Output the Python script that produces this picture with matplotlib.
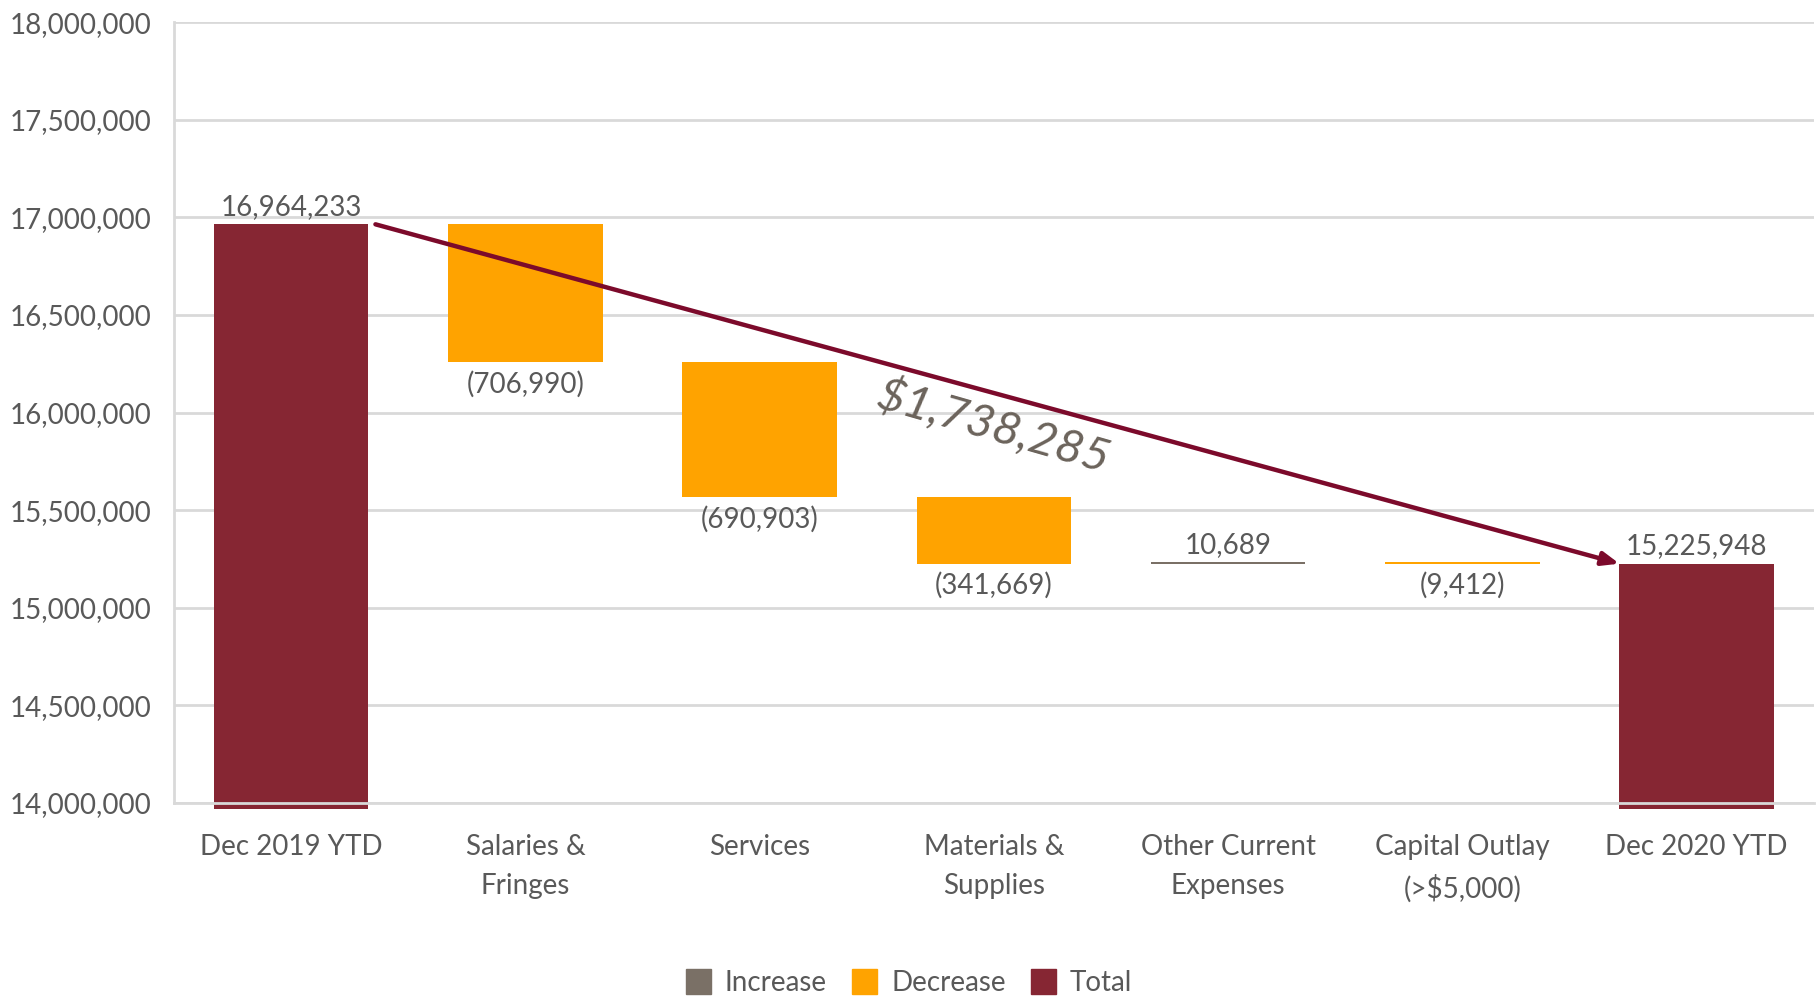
import matplotlib.pyplot as plt
from matplotlib.patches import Patch
from matplotlib.ticker import FuncFormatter

plt.rcParams['font.family'] = ['Lato', 'DejaVu Sans']

categories = ['Dec 2019 YTD', 'Salaries &\nFringes', 'Services', 'Materials &\nSupplies',
              'Other Current\nExpenses', 'Capital Outlay\n(>$5,000)', 'Dec 2020 YTD']
start_total = 16964233
changes = [-706990, -690903, -341669, 10689, -9412]
end_total = 15225948
total_change = 1738285

c_inc = '#7A7066'
c_dec = '#FFA300'
c_tot = '#862633'
c_text = '#595959'
c_grid = '#D9D9D9'

fig = plt.figure(figsize=(18.18, 10.05), dpi=100)
ax = fig.add_axes([0.0957, 0.201, 0.902, 0.777])

w = 0.66
ylo = 14000000
fs = 20
# totals
for i, v in [(0, start_total), (6, end_total)]:
    ax.bar(i, v - ylo + 30000, bottom=ylo - 30000, width=w, color=c_tot, clip_on=False, zorder=2)
    ax.annotate(f'{v:,.0f}', (i, v), xytext=(0, 3), textcoords='offset points',
                ha='center', va='bottom', fontsize=fs, color=c_text)

level = start_total
for k, d in enumerate(changes):
    i = k + 1
    col = c_inc if d > 0 else c_dec
    ax.bar(i, d, bottom=level, width=w, color=col, zorder=2)
    if d > 0:
        ax.annotate(f'{d:,.0f}', (i, level + d), xytext=(0, 3), textcoords='offset points',
                    ha='center', va='bottom', fontsize=fs, color=c_text)
    else:
        ax.annotate(f'({-d:,.0f})', (i, level + d), xytext=(0, -6), textcoords='offset points',
                    ha='center', va='top', fontsize=fs, color=c_text)
    level += d

# arrow showing overall change
ax.annotate('', xy=(6 - 0.33, end_total), xytext=(0.36, start_total),
            arrowprops=dict(arrowstyle='-|>,head_length=1.0,head_width=0.4',
                            color='#7C0A2B', lw=3.2, shrinkA=0, shrinkB=0), zorder=4)
ax.text(3.0, 15930000, f'${total_change:,.0f}', rotation=-16, ha='center', va='center',
        fontsize=34, style='italic', color='#6B635B', zorder=5)

ax.set_ylim(14000000, 18000000)
ax.set_xlim(-0.5, 6.5)
ax.set_yticks(range(14000000, 18000001, 500000))
ax.yaxis.set_major_formatter(FuncFormatter(lambda v, p: f'{v:,.0f}'))
ax.set_xticks(range(len(categories)))
ax.set_xticklabels(categories, linespacing=1.65)
ax.tick_params(axis='both', length=0, labelsize=fs, labelcolor=c_text)
ax.tick_params(axis='x', pad=22)
ax.tick_params(axis='y', pad=16)
ax.grid(axis='y', color=c_grid, lw=2, zorder=0)
ax.set_axisbelow(True)
for s in ['top', 'right']:
    ax.spines[s].set_visible(False)
for s in ['left', 'bottom']:
    ax.spines[s].set_color(c_grid)
    ax.spines[s].set_linewidth(2)
    ax.spines[s].set_zorder(3)

handles = [Patch(color=c_inc, label='Increase'), Patch(color=c_dec, label='Decrease'),
           Patch(color=c_tot, label='Total')]
fig.legend(handles=handles, loc='center', bbox_to_anchor=(0.5, 0.022), ncol=3, frameon=False,
           fontsize=fs, labelcolor=c_text, handlelength=0.9, handleheight=1.0,
           handletextpad=0.5, columnspacing=0.9)

fig.savefig('out.png', dpi=100)
